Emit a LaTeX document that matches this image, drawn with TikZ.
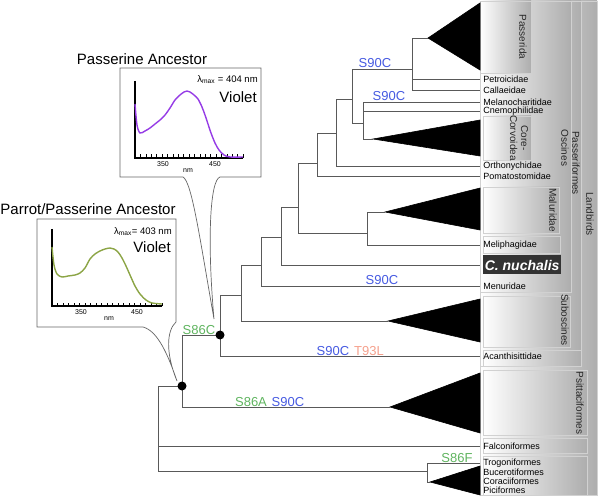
\documentclass[tikz,border=0pt]{standalone}
\usepackage{fontspec}
\setmainfont{Liberation Sans}
\usetikzlibrary{positioning}

\definecolor{mutBlueC}{RGB}{70,90,225}
\definecolor{mutGreenC}{RGB}{95,180,95}
\definecolor{mutSalmonC}{RGB}{245,160,140}
\definecolor{violetC}{RGB}{150,60,230}
\definecolor{oliveC}{RGB}{140,165,70}

\begin{document}
\begin{tikzpicture}[x=1pt, y=-1pt, semithick]
        \tikzset{
           treeBranch/.style={
                        draw=black!65,
                        line width=0.8pt,
                        to path={|- (\tikztotarget)}
                       },
           cladeFill/.style={
                        fill=black,
                        draw=black
                       },
           tipLabel/.style={
                        font=\fontsize{9}{10}\selectfont,
                        inner sep=0pt,
                        anchor=west
                       },
           mutLabel/.style={
                        font=\fontsize{13}{14}\selectfont,
                        inner sep=1pt,
                        anchor=south
                       },
           cladeBox/.style={
                        left color=white,
                        right color=black!32,
                        draw=black!18
                       },
           cladeText/.style={
                        rotate=-90,
                        font=\fontsize{10}{11}\selectfont,
                        text=black!85,
                        inner sep=0pt
                       },
           bubble/.style={
                        draw=black!60,
                        line width=0.7pt,
                        fill=white
                       },
           ancTitle/.style={
                        font=\fontsize{15}{16}\selectfont
                       },
           axisText/.style={
                        font=\fontsize{7}{8}\selectfont,
                        inner sep=0pt
                       },
           ancDot/.style={
                        circle,
                        fill=black,
                        inner sep=0pt,
                        minimum size=9pt
                       },
                 }
    \useasboundingbox (0,0) rectangle (600,497);
    %--------------------
        % clade boxes
        \fill[cladeBox] (480,1)   rectangle (597,495);
        \fill[cladeBox] (480,1)   rectangle (581,366);
        \fill[cladeBox] (480,1)   rectangle (571,292);
        \fill[cladeBox] (480,1)   rectangle (531,73);
        \fill[cladeBox] (483,116) rectangle (531,160);
        \fill[cladeBox] (483,187) rectangle (559,233);
        \fill[cladeBox] (483,236) rectangle (560,253);
        \fill[cladeBox] (483,296) rectangle (570,347);
        \fill[cladeBox] (483,350) rectangle (581,366);
        \fill[cladeBox] (483,370) rectangle (587,435);
        \fill[cladeBox] (483,438) rectangle (587,453);
        \fill[cladeBox] (483,456) rectangle (587,495);

        \node[cladeText]               (txtLand)   at (590,214) {Landbirds};
        \node[cladeText]               (txtPasser) at (576,163) {Passeriformes};
        \node[cladeText]               (txtOsc)    at (565,148) {Oscines};
        \node[cladeText]               (txtPsrda)  at (523,37)  {Passerida};
        \node[cladeText, align=center] (txtCorv)   at (519,138) {Core-\\Corvoidea};
        \node[cladeText]               (txtMalu)   at (553,210) {Maluridae};
        \node[cladeText]               (txtSubos)  at (565,320) {Suboscines};
        \node[cladeText]               (txtPsitt)  at (580,403) {Psittaciformes};
    %--------------------
        % ancestral spectra
        \draw[bubble] (183,177) -- (120,177) -- (120,68) -- (261,68) -- (261,177) -- (220,177)
              .. controls (210,180) and (207,240) .. (214,319)
              .. controls (200,240) and (192,182) .. (183,177) -- cycle;
        \draw[bubble] (143,327) -- (37,327) -- (37,219) -- (176,219) -- (176,322)
              .. controls (167,330) and (165,352) .. (177,381)
              .. controls (168,355) and (158,331) .. (143,327) -- cycle;

        \node[ancTitle] (titlePasser) at (142,59)  {Passerine Ancestor};
        \node[ancTitle] (titleParrot) at (88,209)  {Parrot/Passerine Ancestor};

        \draw[line width=1.3pt] (135,81) -- (135,158) -- (243,158);
        \foreach \i in {0,...,20}
            \draw[line width=0.6pt] ({135+5.4*\i},158) -- ({135+5.4*\i},154.5);
        \node[axisText] (upper350) at (163,164) {350};
        \node[axisText] (upper450) at (215,164) {450};
        \node[axisText] (upperNm)  at (188,170.5) {nm};
        \draw[violetC, line width=1.4pt] plot[smooth] coordinates {
              (135,104) (137,125) (140,133) (145,131) (150,128) (155,124) (160,120)
              (165,115) (170,108) (175,100) (180,95) (184,92) (187,91) (190,92)
              (194,95) (198,99) (202,107) (205,115) (208,124) (211,133) (215,143)
              (219,150) (224,155) (230,157) (243,157)};
        \node[anchor=east, font=\fontsize{9.5}{10}\selectfont, inner sep=0pt]
              (upperLmax) at (258,80) {λ\textsubscript{max} = 404 nm};
        \node[anchor=east, font=\fontsize{15}{16}\selectfont, inner sep=0pt]
              (upperViolet) at (257,97) {Violet};

        \draw[line width=1.3pt] (52,229) -- (52,306) -- (162,306);
        \foreach \i in {0,...,20}
            \draw[line width=0.6pt] ({52+5.5*\i},306) -- ({52+5.5*\i},302.5);
        \node[axisText] (lower350) at (81,312)  {350};
        \node[axisText] (lower450) at (137,312) {450};
        \node[axisText] (lowerNm)  at (109,318.5) {nm};
        \draw[oliveC, line width=1.4pt] plot[smooth] coordinates {
              (52,247) (54,265) (57,274) (62,277) (68,276) (75,275) (80,273)
              (85,268) (90,259) (95,254) (100,251) (105,249) (110,248) (114,249)
              (118,252) (122,258) (126,266) (130,275) (135,286) (140,294)
              (146,300) (152,303) (162,304)};
        \node[anchor=east, font=\fontsize{9.5}{10}\selectfont, inner sep=0pt]
              (lowerLmax) at (172,232) {λ\textsubscript{max}= 403 nm};
        \node[anchor=east, font=\fontsize{15}{16}\selectfont, inner sep=0pt]
              (lowerViolet) at (171,247) {Violet};
    %--------------------
        % tree nodes
        \coordinate (landRoot)      at (158,428);
        \coordinate (parrotPasser)  at (182,386);
        \coordinate (passerAnc)     at (220,335);
        \coordinate (eupasser)      at (241,295);
        \coordinate (oscMenura)     at (261,265);
        \coordinate (oscNuchalis)   at (281,237);
        \coordinate (oscCore)       at (298,207);
        \coordinate (maluMeli)      at (367,233);
        \coordinate (corvPomato)    at (317,163);
        \coordinate (corvOrtho)     at (336,133);
        \coordinate (corvPasserida) at (352,99);
        \coordinate (corvMelano)    at (363,123);
        \coordinate (passeridaNode) at (412,69);
        \coordinate (coraNode)      at (427,471);

        \coordinate (aPasserida)    at (428,38);
        \coordinate (aCorvoid)      at (373,139);
        \coordinate (aMaluri)       at (385,212);
        \coordinate (aSubosc)       at (388,321);
        \coordinate (aPsitta)       at (390,407);
        \coordinate (aCoraci)       at (430,482);

        \coordinate (tPetro)        at (480,79);
        \coordinate (tCallae)       at (480,90);
        \coordinate (tMelano)       at (480,102);
        \coordinate (tCnemo)        at (480,111);
        \coordinate (tOrtho)        at (480,166);
        \coordinate (tPomato)       at (480,176);
        \coordinate (tMeli)         at (480,245);
        \coordinate (tNuch)         at (480,265);
        \coordinate (tMenu)         at (480,286);
        \coordinate (tAcanth)       at (480,356);
        \coordinate (tFalco)        at (480,446);
        \coordinate (tTrogon)       at (480,463);

        % collapsed clades
        \fill[cladeFill] (aPasserida) -- (480,3)   -- (480,70)  -- cycle;
        \fill[cladeFill] (aCorvoid)   -- (480,120) -- (480,156) -- cycle;
        \fill[cladeFill] (aMaluri)    -- (480,188) -- (480,230) -- cycle;
        \fill[cladeFill] (aSubosc)    -- (480,299) -- (480,342) -- cycle;
        \fill[cladeFill] (aPsitta)    -- (480,373) -- (480,433) -- cycle;
        \fill[cladeFill] (aCoraci)    -- (480,466) -- (480,495) -- cycle;
    %--------------------
        \path (landRoot)      edge[treeBranch] (parrotPasser)
              (landRoot)      edge[treeBranch] (tFalco)
              (landRoot)      edge[treeBranch] (coraNode)

              (coraNode)      edge[treeBranch] (tTrogon)
              (coraNode)      edge[treeBranch] (aCoraci)

              (parrotPasser)  edge[treeBranch] (passerAnc)
              (parrotPasser)  edge[treeBranch] (aPsitta)

              (passerAnc)     edge[treeBranch] (eupasser)
              (passerAnc)     edge[treeBranch] (tAcanth)

              (eupasser)      edge[treeBranch] (oscMenura)
              (eupasser)      edge[treeBranch] (aSubosc)

              (oscMenura)     edge[treeBranch] (oscNuchalis)
              (oscMenura)     edge[treeBranch] (tMenu)

              (oscNuchalis)   edge[treeBranch] (oscCore)
              (oscNuchalis)   edge[treeBranch] (tNuch)

              (oscCore)       edge[treeBranch] (corvPomato)
              (oscCore)       edge[treeBranch] (maluMeli)

              (maluMeli)      edge[treeBranch] (aMaluri)
              (maluMeli)      edge[treeBranch] (tMeli)

              (corvPomato)    edge[treeBranch] (corvOrtho)
              (corvPomato)    edge[treeBranch] (tPomato)

              (corvOrtho)     edge[treeBranch] (corvPasserida)
              (corvOrtho)     edge[treeBranch] (tOrtho)

              (corvPasserida) edge[treeBranch] (passeridaNode)
              (corvPasserida) edge[treeBranch] (corvMelano)

              (corvMelano)    edge[treeBranch] (tMelano)
              (corvMelano)    edge[treeBranch] (tCnemo)
              (corvMelano)    edge[treeBranch] (aCorvoid)

              (passeridaNode) edge[treeBranch] (aPasserida)
              (passeridaNode) edge[treeBranch] (tPetro)
              (passeridaNode) edge[treeBranch] (tCallae);

        \node[ancDot] (dotParrot) at (parrotPasser) {};
        \node[ancDot] (dotPasser) at (passerAnc)    {};
    %--------------------
        % tip labels
        \node[tipLabel] (lblPetro)  [right=3pt of tPetro]  {Petroicidae};
        \node[tipLabel] (lblCallae) [right=3pt of tCallae] {Callaeidae};
        \node[tipLabel] (lblMelano) [right=3pt of tMelano] {Melanocharitidae};
        \node[tipLabel] (lblCnemo)  [right=3pt of tCnemo]  {Cnemophilidae};
        \node[tipLabel] (lblOrtho)  [right=3pt of tOrtho]  {Orthonychidae};
        \node[tipLabel] (lblPomato) [right=3pt of tPomato] {Pomatostomidae};
        \node[tipLabel] (lblMeli)   [right=3pt of tMeli]   {Meliphagidae};
        \node[tipLabel] (lblMenu)   [right=3pt of tMenu]   {Menuridae};
        \node[tipLabel] (lblAcanth) [right=3pt of tAcanth] {Acanthisittidae};
        \node[tipLabel] (lblFalco)  [right=3pt of tFalco]  {Falconiformes};
        \node[tipLabel] (lblTrogon) [right=3pt of tTrogon] {Trogoniformes};
        \node[tipLabel] (lblBucero) at (483,472) {Bucerotiformes};
        \node[tipLabel] (lblCoraci) at (483,481) {Coraciiformes};
        \node[tipLabel] (lblPici)   at (483,490) {Piciformes};
        \node[anchor=west, fill=black!80, text=white, inner xsep=1.5pt, minimum height=19pt,
              font=\fontsize{14}{15}\selectfont\bfseries\itshape]
              (lblNuch) [right=3pt of tNuch] {C. nuchalis};
    %--------------------
        % substitutions
        \node[mutLabel, text=mutBlueC]    (mutPasserida) at (375,69)  {S90C};
        \node[mutLabel, text=mutBlueC]    (mutMelano)    at (389,102) {S90C};
        \node[mutLabel, text=mutBlueC]    (mutMenura)    at (382,286) {S90C};
        \node[mutLabel, text=mutGreenC]   (mutPasser)    at (199,336) {S86C};
        \node[mutLabel, text=mutBlueC]    (mutAcanthA)   at (333,357) {S90C};
        \node[mutLabel, text=mutSalmonC]  (mutAcanthB)   at (369,357) {T93L};
        \node[mutLabel, text=mutGreenC]   (mutPsittA)    at (251,408) {S86A};
        \node[mutLabel, text=mutBlueC]    (mutPsittB)    at (288,408) {S90C};
        \node[mutLabel, text=mutGreenC]   (mutTrogon)    at (457,464) {S86F};
    \end{tikzpicture}
\end{document}
